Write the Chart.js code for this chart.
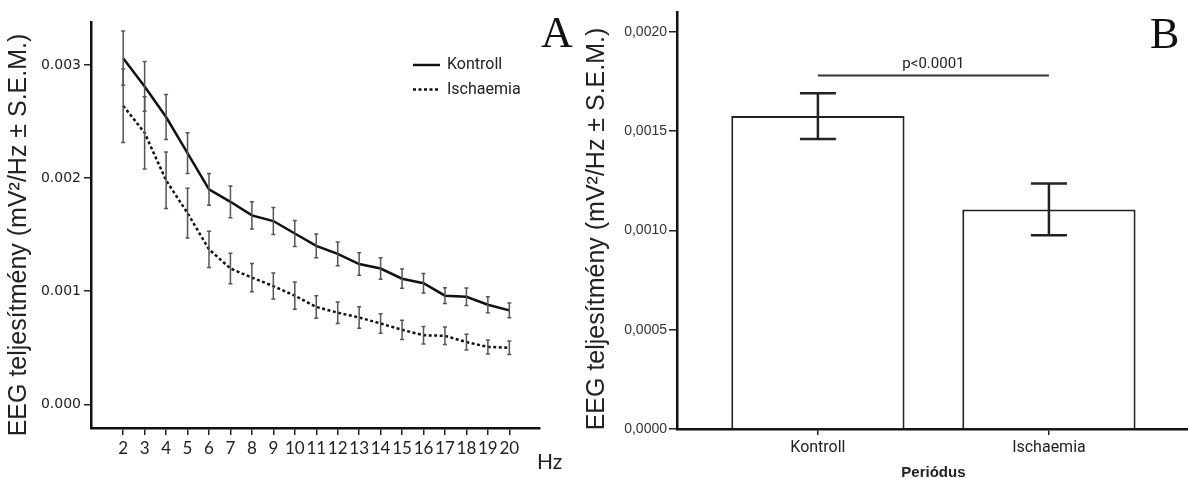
<!DOCTYPE html>
<html>
<head>
<meta charset="utf-8">
<script src="https://cdn.jsdelivr.net/npm/chart.js@4.4.1/dist/chart.umd.min.js"></script>
<style>
  body { margin: 0; background: #fff; width: 1188px; height: 479px; position: relative; overflow: hidden; }
  #left { position: absolute; left: 0; top: 0; }
  #right { position: absolute; left: 575px; top: 0; }
</style>
</head>
<body>
<canvas id="left" width="600" height="479"></canvas>
<canvas id="right" width="613" height="479"></canvas>
<script>
// panel A - power spectrum by frequency
const hz = [2, 3, 4, 5, 6, 7, 8, 9, 10, 11, 12, 13, 14, 15, 16, 17, 18, 19, 20]
const kontroll = [0.00306, 0.00281, 0.00254, 0.00222, 0.00190, 0.00179, 0.00167, 0.00162, 0.00151, 0.00140,
  0.00133, 0.00124, 0.00120, 0.00111, 0.00107, 0.00096, 0.00095, 0.00088, 0.00083]
const kontrollSem = [0.00024, 0.00022, 0.00020, 0.00018, 0.00014, 0.00014, 0.00012, 0.00012, 0.000115, 0.000105,
  0.000105, 0.00010, 0.000095, 0.000085, 0.000087, 0.00007, 0.000077, 0.00007, 0.000066]
const ischaemia = [0.00264, 0.00240, 0.00198, 0.00169, 0.00137, 0.00120, 0.00112, 0.001045, 0.00096, 0.00086,
  0.00081, 0.000767, 0.000714, 0.000658, 0.00061, 0.000605, 0.00055, 0.000507, 0.0005]
const ischaemiaSem = [0.000325, 0.00032, 0.00025, 0.00022, 0.00016, 0.000135, 0.000125, 0.000115, 0.00012, 0.0001,
  0.000095, 0.000095, 0.000087, 0.000085, 0.000077, 0.000077, 0.00007, 0.000062, 0.00006]
const yTicksA = [0, 0.001, 0.002, 0.003]

// panel B - mean power per period
const periods = ['Kontroll', 'Ischaemia']
const periodMeans = [0.001576, 0.001106]
const periodSem = [0.000115, 0.00013]
const yTicksB = [0, 0.0005, 0.001, 0.0015, 0.002]
const pText = 'p<0.0001'
const pLevel = 0.00178

const yTitle = 'EEG teljesítmény (mV²/Hz ± S.E.M.)'
const narrow = 'Roboto'

const errorBars = {
  id: 'errorBars',
  afterDatasetsDraw(chart, args, opts) {
    const {ctx, scales: {x, y}} = chart
    ctx.save()
    ctx.strokeStyle = opts.color
    ctx.lineWidth = opts.width
    opts.sets.forEach(s => {
      s.xs.forEach((xv, i) => {
        const px = x.getPixelForValue(xv)
        const top = y.getPixelForValue(s.mean[i] + s.sem[i])
        const bot = y.getPixelForValue(s.mean[i] - s.sem[i])
        ctx.beginPath()
        ctx.moveTo(px, top); ctx.lineTo(px, bot)
        ctx.moveTo(px - opts.cap, top); ctx.lineTo(px + opts.cap, top)
        ctx.moveTo(px - opts.cap, bot); ctx.lineTo(px + opts.cap, bot)
        ctx.stroke()
      })
    })
    ctx.restore()
  }
}

function rotatedTitle(ctx, x, y) {
  ctx.save()
  ctx.translate(x, y)
  ctx.rotate(-Math.PI / 2)
  ctx.font = '25px "Liberation Sans"'
  ctx.fillStyle = '#222'
  ctx.textAlign = 'center'
  ctx.textBaseline = 'middle'
  ctx.fillText(yTitle, 0, 0)
  ctx.restore()
}

const panelA = {
  id: 'panelA',
  afterDraw(chart) {
    const {ctx, chartArea} = chart
    rotatedTitle(ctx, 19, 235)
    ctx.save()
    ctx.fillStyle = '#222'
    ctx.textBaseline = 'middle'
    ctx.font = '21px Lato'
    ctx.fillText('Hz', chartArea.right - 3, 462)
    ctx.font = '44px "Liberation Serif"'
    ctx.textBaseline = 'alphabetic'
    ctx.fillStyle = '#111'
    ctx.fillText('A', chartArea.right + 1, 47)
    // legend
    ctx.font = '16px ' + narrow
    ctx.textBaseline = 'middle'
    chart.data.datasets.forEach((ds, i) => {
      const ly = 65 + i * 24.5
      ctx.strokeStyle = ds.borderColor
      ctx.lineWidth = ds.borderWidth
      ctx.setLineDash(ds.borderDash || [])
      ctx.beginPath()
      ctx.moveTo(413, ly); ctx.lineTo(440, ly)
      ctx.stroke()
      ctx.setLineDash([])
      ctx.fillStyle = '#222'
      ctx.fillText(ds.label, 447, ly)
    })
    ctx.restore()
  }
}

const panelB = {
  id: 'panelB',
  afterDraw(chart) {
    const {ctx, chartArea, scales: {x, y}} = chart
    rotatedTitle(ctx, 22, 229)
    ctx.save()
    // significance bar
    const x0 = x.getPixelForValue(0), x1 = x.getPixelForValue(1)
    const py = y.getPixelForValue(pLevel)
    ctx.strokeStyle = '#333'
    ctx.lineWidth = 2
    ctx.beginPath()
    ctx.moveTo(x0, py); ctx.lineTo(x1, py)
    ctx.stroke()
    ctx.fillStyle = '#222'
    ctx.textAlign = 'center'
    ctx.textBaseline = 'middle'
    ctx.font = '15px ' + narrow
    ctx.fillText(pText, (x0 + x1) / 2, py - 11)
    ctx.font = 'bold 15px "Liberation Sans"'
    ctx.fillText('Periódus', (x0 + x1) / 2, 473)
    ctx.font = '44px "Liberation Serif"'
    ctx.textAlign = 'left'
    ctx.textBaseline = 'alphabetic'
    ctx.fillStyle = '#111'
    ctx.fillText('B', chartArea.right - 38, 48)
    ctx.restore()
  }
}

const axisGrid = { display: true, offset: false, drawOnChartArea: false, drawTicks: true, tickLength: 7, tickColor: '#222', tickWidth: 1.5, lineWidth: 1.5 }
const axisBorder = { display: true, color: '#111', width: 2.5 }

new Chart(document.getElementById('left'), {
  type: 'line',
  data: {
    datasets: [
      { label: 'Kontroll', data: hz.map((h, i) => ({x: h, y: kontroll[i]})),
        borderColor: '#111', borderWidth: 2.5, pointRadius: 0, tension: 0 },
      { label: 'Ischaemia', data: hz.map((h, i) => ({x: h, y: ischaemia[i]})),
        borderColor: '#111', borderWidth: 2.5, borderDash: [3, 2.5], pointRadius: 0, tension: 0 }
    ]
  },
  options: {
    responsive: false,
    animation: false,
    layout: { padding: { left: 0, right: 60, top: 22, bottom: 0 } },
    plugins: {
      legend: { display: false },
      tooltip: { enabled: false },
      errorBars: {
        color: '#555', width: 1.5, cap: 2,
        sets: [
          { xs: hz, mean: kontroll, sem: kontrollSem },
          { xs: hz, mean: ischaemia, sem: ischaemiaSem }
        ]
      }
    },
    scales: {
      x: {
        type: 'linear', min: 0.5, max: 21.43, bounds: 'data', offset: false,
        afterBuildTicks: s => { s.ticks = hz.map(v => ({value: v})) },
        afterFit: s => { s.height = 51 },
        grid: axisGrid, border: axisBorder,
        ticks: { font: { family: 'Lato', size: 17 }, color: '#222', padding: 3, maxRotation: 0, autoSkip: false,
          callback: v => String(v) }
      },
      y: {
        min: -0.00021, max: 0.00338, bounds: 'data',
        afterBuildTicks: s => { s.ticks = yTicksA.map(v => ({value: v})) },
        afterFit: s => { s.width = 91 },
        grid: axisGrid, border: axisBorder,
        ticks: { font: { family: 'DejaVu Sans', size: 14 }, color: '#222', padding: 3,
          callback: v => v.toFixed(3) }
      }
    }
  },
  plugins: [errorBars, panelA]
})

new Chart(document.getElementById('right'), {
  type: 'bar',
  data: {
    datasets: [{
      label: 'EEG',
      data: periods.map((p, i) => ({x: i, y: periodMeans[i]})),
      backgroundColor: '#fff', borderColor: '#222', borderWidth: 2,
      barPercentage: 0.75, categoryPercentage: 1
    }]
  },
  options: {
    responsive: false,
    animation: false,
    layout: { padding: { left: 0, right: 0, top: 12, bottom: 0 } },
    plugins: {
      legend: { display: false },
      tooltip: { enabled: false },
      errorBars: {
        color: '#222', width: 2.5, cap: 18,
        sets: [{ xs: periods.map((p, i) => i), mean: periodMeans, sem: periodSem }]
      }
    },
    scales: {
      x: {
        type: 'linear', min: -0.61, max: 1.602, bounds: 'data', offset: false,
        afterBuildTicks: s => { s.ticks = periods.map((p, i) => ({value: i})) },
        afterFit: s => { s.height = 50 },
        grid: { ...axisGrid, tickLength: 6 }, border: axisBorder,
        ticks: { font: { family: narrow, size: 16 }, color: '#222', padding: 3, maxRotation: 0, autoSkip: false,
          callback: v => periods[v] }
      },
      y: {
        min: 0, max: 0.0021, bounds: 'data',
        afterBuildTicks: s => { s.ticks = yTicksB.map(v => ({value: v})) },
        afterFit: s => { s.width = 102 },
        grid: { ...axisGrid, tickLength: 8 }, border: axisBorder,
        ticks: { font: { family: 'Liberation Sans', size: 14 }, color: '#333', padding: 2,
          callback: v => v.toFixed(4).replace('.', ',') }
      }
    }
  },
  plugins: [errorBars, panelB]
})
</script>
</body>
</html>
